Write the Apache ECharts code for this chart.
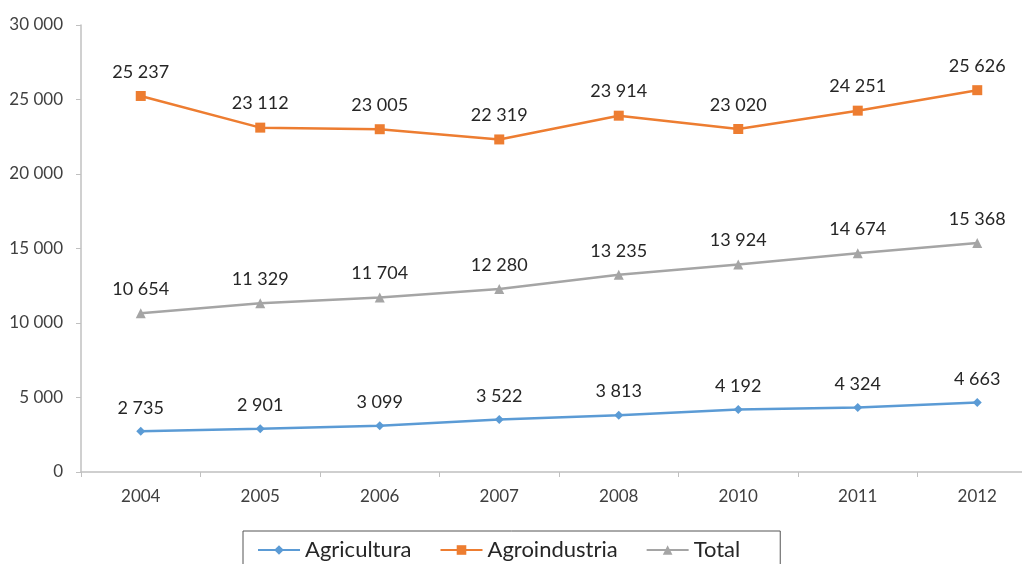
<!DOCTYPE html>
<html>
<head>
<meta charset="utf-8">
<script src="https://cdn.jsdelivr.net/npm/echarts@6/dist/echarts.min.js"></script>
<style>
html,body{margin:0;padding:0;background:#fff;overflow:hidden;width:1022px;height:564px;}
#chart{width:1037px;height:564px;}
</style>
</head>
<body>
<div id="chart"></div>
<script>
var years = ['2004','2005','2006','2007','2008','2010','2011','2012'];
var agricultura = [2735, 2901, 3099, 3522, 3813, 4192, 4324, 4663];
var agroindustria = [25237, 23112, 23005, 22319, 23914, 23020, 24251, 25626];
var total = [10654, 11329, 11704, 12280, 13235, 13924, 14674, 15368];

function fmt(v){
  return String(v).replace(/\B(?=(\d{3})+(?!\d))/g, ' ');
}
var FONT = 'Lato';
function mkSeries(name, data, color, symbol, size){
  return {
    name: name, type: 'line', data: data,
    symbol: symbol, symbolSize: size,
    lineStyle: {color: color, width: 2.5},
    itemStyle: {color: color},
    label: {show: true, position: 'top', distance: 10, color: '#262626',
      fontFamily: FONT, fontSize: 18,
      formatter: function(p){ return fmt(p.value); }},
    emphasis: {disabled: true},
    animation: false
  };
}
var chart = echarts.init(document.getElementById('chart'));
chart.setOption({
  backgroundColor: '#fff',
  animation: false,
  grid: {left: 81, right: 0, top: 25, bottom: 92},
  legend: {
    left: 243, top: 531,
    data: ['Agricultura','Agroindustria','Total'],
    itemWidth: 42, itemHeight: 12, itemGap: 28,
    borderColor: '#555', borderWidth: 1,
    padding: [8, 40, 14, 14],
    textStyle: {fontFamily: FONT, fontSize: 22, color: '#262626'}
  },
  xAxis: {
    type: 'category', data: years, boundaryGap: true,
    axisLine: {lineStyle: {color: '#c0c0c0', width: 1.5}},
    axisTick: {show: true, length: 5, lineStyle: {color: '#c0c0c0'}},
    axisLabel: {fontFamily: FONT, fontSize: 17, color: '#404040', margin: 16}
  },
  yAxis: {
    type: 'value', min: 0, max: 30000, interval: 5000,
    axisLine: {show: true, lineStyle: {color: '#c0c0c0', width: 1.5}},
    axisTick: {show: true, length: 5, lineStyle: {color: '#c0c0c0'}},
    splitLine: {show: false},
    axisLabel: {fontFamily: FONT, fontSize: 17, color: '#404040', margin: 18,
      formatter: function(v){ return fmt(v); }}
  },
  series: [
    mkSeries('Agricultura', agricultura, '#5b9bd5', 'diamond', 9),
    mkSeries('Agroindustria', agroindustria, '#ed7d31', 'rect', 10),
    mkSeries('Total', total, '#a5a5a5', 'triangle', 10)
  ]
});
</script>
</body>
</html>
